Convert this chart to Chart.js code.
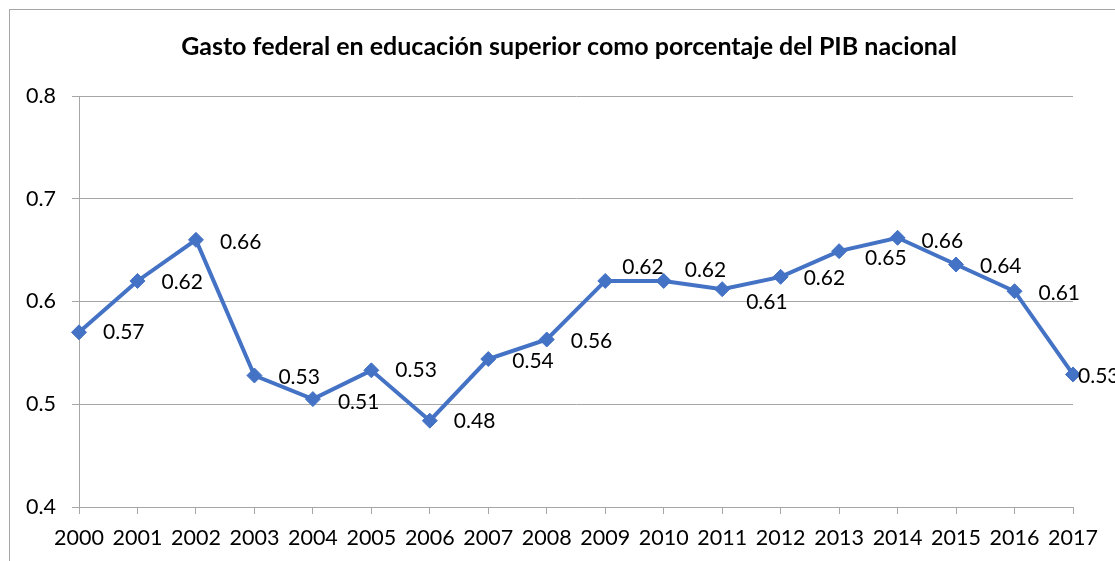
<!DOCTYPE html>
<html>
<head>
<meta charset="utf-8">
<script src="https://cdn.jsdelivr.net/npm/chart.js@4.4.0/dist/chart.umd.min.js"></script>
<style>
  html, body { margin: 0; padding: 0; background: #fff; overflow: hidden; }
  #frame { position: absolute; left: 9px; top: 9px; width: 1200px; height: 620px; border: 1px solid #a6a6a6; }
  #wrap { position: absolute; left: 0; top: 0; width: 1140px; height: 561px; }
</style>
</head>
<body>
<div id="frame"></div>
<div id="wrap"><canvas id="chartGasto" width="1140" height="561"></canvas></div>
<script>
var years = ["2000", "2001", "2002", "2003", "2004", "2005", "2006", "2007", "2008",
             "2009", "2010", "2011", "2012", "2013", "2014", "2015", "2016", "2017"];
var gasto = [0.570, 0.620, 0.660, 0.528, 0.505, 0.533, 0.484, 0.544, 0.563,
             0.620, 0.620, 0.612, 0.624, 0.649, 0.662, 0.636, 0.610, 0.529];
var yTicks = [0.4, 0.5, 0.6, 0.7, 0.8];
var titulo = "Gasto federal en educación superior como porcentaje del PIB nacional";

// label nudges (px) to mimic where the original placed each value
var labelDx = [24, 24, 24, 24, 25, 24, 24, 24, 24, 17, 21, 24, 23, 26, 24, 24, 24, 5];
var labelDy = [0, 1, 2, 2, 3, 0, 1, 2, 2, -14, -11, 13, 1, 7, 3, 2, 2, 2];

var azul = "#4472C4";
var gris = "#a6a6a6";
var fuente = "Lato, 'Open Sans', sans-serif";

// title centred on the whole frame, not on the padded layout box
var tituloPlugin = {
    id: "tituloPlugin",
    beforeDraw: function (chart) {
        var ctx = chart.ctx;
        ctx.save();
        ctx.font = "bold 25px " + fuente;
        ctx.fillStyle = "#000";
        ctx.textAlign = "center";
        ctx.textBaseline = "middle";
        ctx.fillText(titulo, 569, 47);
        ctx.restore();
    }
};

var valueLabels = {
    id: "valueLabels",
    afterDatasetsDraw: function (chart) {
        var ctx = chart.ctx;
        var meta = chart.getDatasetMeta(0);
        ctx.save();
        ctx.font = "21px " + fuente;
        ctx.fillStyle = "#000";
        ctx.textAlign = "left";
        ctx.textBaseline = "middle";
        meta.data.forEach(function (pt, i) {
            ctx.fillText(gasto[i].toFixed(2), pt.x + labelDx[i], pt.y + labelDy[i]);
        });
        ctx.restore();
    }
};

var ctx = document.getElementById("chartGasto").getContext("2d");

var myChart = new Chart(ctx, {
    type: "line",
    data: {
        labels: years,
        datasets: [{
            label: "Gasto",
            data: gasto,
            borderColor: azul,
            backgroundColor: azul,
            borderWidth: 4,
            pointStyle: "rectRot",
            pointRadius: 7.5,
            pointBorderWidth: 1,
            pointBackgroundColor: azul,
            pointBorderColor: azul,
            tension: 0,
        }],
    },
    options: {
        responsive: false,
        animation: false,
        devicePixelRatio: 1,
        layout: {
            padding: { left: 0, right: 67, top: 96, bottom: 0 },
        },
        plugins: {
            legend: { display: false },
            tooltip: { enabled: false },
            title: { display: false },
        },
        scales: {
            x: {
                offset: false,
                grid: {
                    drawOnChartArea: false,
                    drawTicks: true,
                    tickLength: 7,
                    color: gris,
                },
                border: { color: gris, width: 1 },
                ticks: {
                    color: "#000",
                    font: { family: fuente, size: 21.5 },
                    padding: 11,
                    maxRotation: 0,
                    autoSkip: false,
                },
                afterFit: function (scale) { scale.height = 54; },
            },
            y: {
                min: 0.4,
                max: 0.8,
                afterBuildTicks: function (scale) {
                    scale.ticks = yTicks.map(function (v) { return { value: v }; });
                },
                grid: {
                    color: gris,
                    tickLength: 7,
                },
                border: { color: gris, width: 1 },
                ticks: {
                    color: "#000",
                    font: { family: fuente, size: 21.5 },
                    padding: 16,
                    callback: function (v) { return String(Math.round(v * 10) / 10); },
                },
                afterFit: function (scale) { scale.width = 79; },
            },
        },
    },
    plugins: [tituloPlugin, valueLabels],
});
</script>
</body>
</html>
